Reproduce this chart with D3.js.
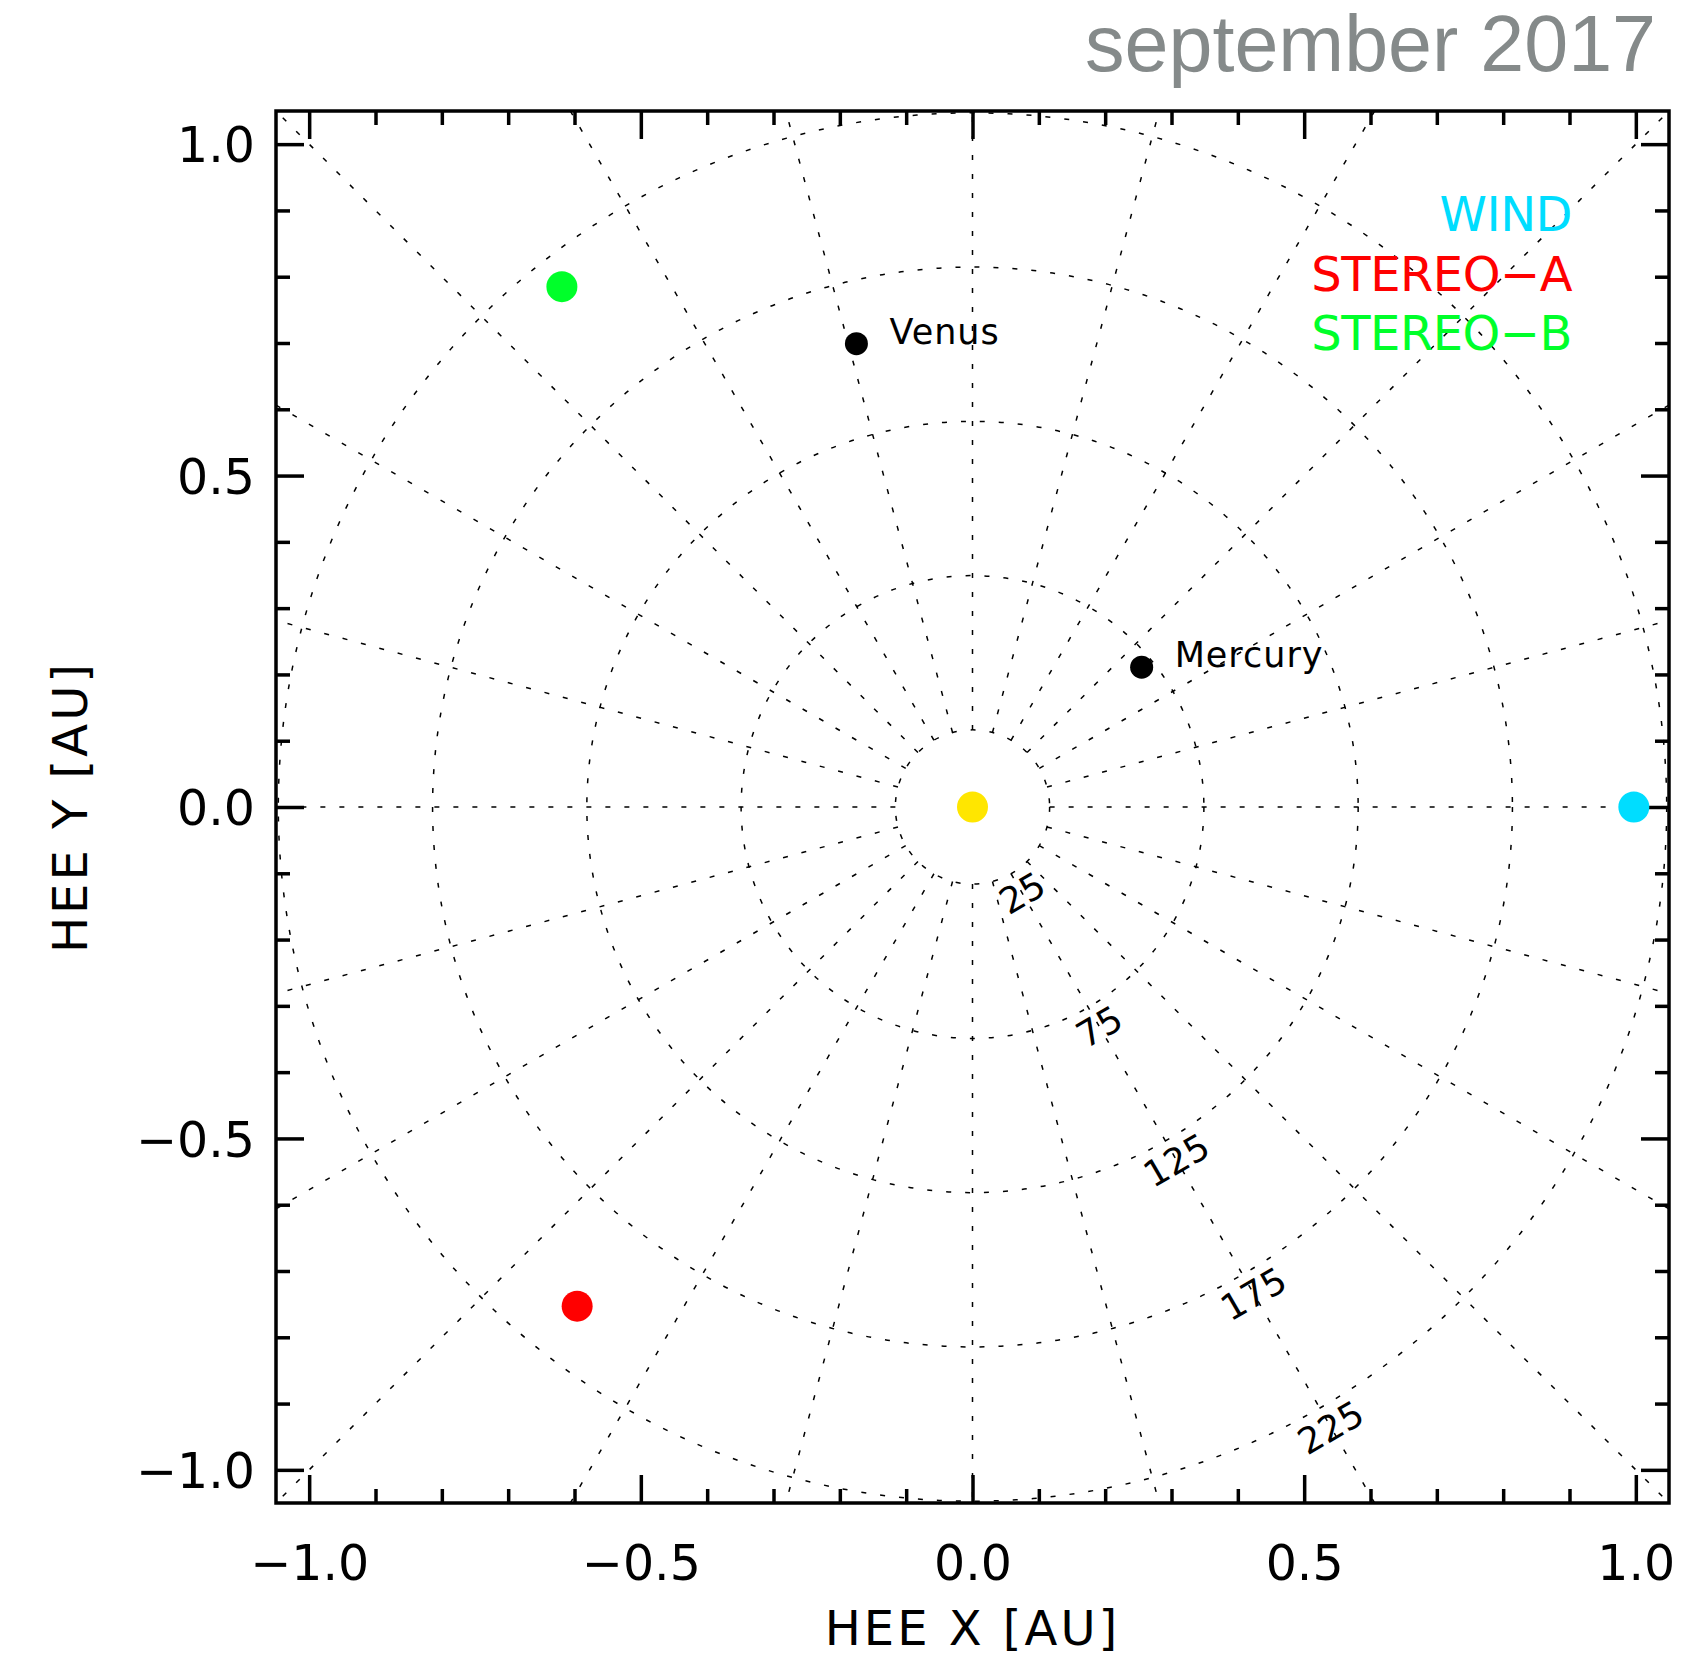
<!DOCTYPE html>
<html lang="en">
<head>
<meta charset="UTF-8">
<title>september 2017</title>
<script src="https://cdn.jsdelivr.net/npm/d3@7"></script>
<style>
  body { margin: 0; background: #fff; }
  text { font-family: "DejaVu Sans", sans-serif; }
</style>
</head>
<body>
<svg id="chart" width="1686" height="1659"></svg>
<script>
// heliocentric positions, HEE [AU]
var planetNames = ["Mercury", "Venus"];
var planetX = [0.255, -0.175];
var planetY = [0.211, 0.699];

var craftNames = ["WIND", "STEREO\u2212A", "STEREO\u2212B"];
var craftX = [0.997, -0.596, -0.619];
var craftY = [0.000, -0.753, 0.785];
var craftColors = ["#00ddff", "#ff0000", "#00ff2a"];

// grid rings in solar radii, spokes every 15 deg
var ringRadii = [25, 75, 125, 175, 225];
var rsunPerAU = 215;
var spokeAngles = d3.range(0, 360, 15);

var majorTicks = [-1.0, -0.5, 0.0, 0.5, 1.0];
var minorTicks = d3.range(-10, 11).map(d => d / 10).filter(d => Math.abs(d * 2 - Math.round(d * 2)) > 1e-6);

var svg = d3.select("svg");
// note: "top" is taken by window.top, so prefix these
var pLeft = 276, pRight = 1669, pTop = 111, pBottom = 1503;

var x = d3.scaleLinear().domain([-1.05, 1.05]).range([pLeft, pRight]);
var y = d3.scaleLinear().domain([-1.05, 1.05]).range([pBottom, pTop]);
var px = d => x(d) - x(0);   // AU -> pixels (radius)

svg.append("clipPath").attr("id", "plotclip")
  .append("rect").attr("x", pLeft).attr("y", pTop)
  .attr("width", pRight - pLeft).attr("height", pBottom - pTop);

var grid = svg.append("g").attr("clip-path", "url(#plotclip)")
  .attr("fill", "none").attr("stroke", "#000")
  .attr("stroke-width", 1.5).attr("stroke-dasharray", "5,14");

grid.selectAll("circle").data(ringRadii).enter().append("circle")
  .attr("cx", x(0)).attr("cy", y(0))
  .attr("r", d => px(d / rsunPerAU));

var r0 = ringRadii[0] / rsunPerAU;
grid.selectAll("line").data(spokeAngles).enter().append("line")
  .attr("x1", a => x(r0 * Math.cos(a * Math.PI / 180)))
  .attr("y1", a => y(r0 * Math.sin(a * Math.PI / 180)))
  .attr("x2", a => x(1.8 * Math.cos(a * Math.PI / 180)))
  .attr("y2", a => y(1.8 * Math.sin(a * Math.PI / 180)));

// ring labels along -60 deg
var labAng = -60 * Math.PI / 180;
svg.append("g").selectAll("text").data(ringRadii).enter().append("text")
  .attr("transform", function(d) {
      var rr = d / rsunPerAU;
      var cx = x(0) + (px(rr) + 22) * Math.cos(labAng);
      var cy = y(0) - (px(rr) + 22) * Math.sin(labAng);
      return "translate(" + cx + "," + cy + ") rotate(-30)";
  })
  .attr("text-anchor", "middle").attr("dy", "0.36em")
  .style("font-size", "36px")
  .text(d => d);

// axes: majors + minors on all four sides, ticks inward
var fmt = d3.format(".1f");
function addAxis(axisFn, tx, ty, labels) {
  var sc = tx ? y : x;
  var g = svg.append("g").attr("transform", "translate(" + tx + "," + ty + ")");
  g.call(axisFn(sc).tickValues(majorTicks).tickSizeInner(-28).tickSizeOuter(0)
      .tickPadding(labels ? (axisFn === d3.axisBottom ? 42 : 21) : 0)
      .tickFormat(labels ? fmt : ""));
  g.append("g").call(axisFn(sc).tickValues(minorTicks).tickSizeInner(-14).tickSizeOuter(0).tickFormat(""));
  g.selectAll("line").attr("stroke", "#000").attr("stroke-width", 3.5);
  g.selectAll("path").remove();
  g.selectAll("text").style("font-size", "49px").attr("fill", "#000");
  return g;
}
addAxis(d3.axisBottom, 0, pBottom, true);
addAxis(d3.axisTop, 0, pTop, false);
var yl = addAxis(d3.axisLeft, pLeft, 0, true);
yl.selectAll("text").attr("dy", "0.36em");
addAxis(d3.axisRight, pRight, 0, false);

svg.append("rect").attr("x", pLeft).attr("y", pTop)
  .attr("width", pRight - pLeft).attr("height", pBottom - pTop)
  .attr("fill", "none").attr("stroke", "#000").attr("stroke-width", 3.5);

// axis titles
svg.append("text").attr("x", x(0)).attr("y", 1645)
  .attr("text-anchor", "middle").style("font-size", "48px").style("letter-spacing", "3px")
  .text("HEE X [AU]");
svg.append("text").attr("transform", "translate(87," + y(0) + ") rotate(-90)")
  .attr("text-anchor", "middle").style("font-size", "48px").style("letter-spacing", "3px")
  .text("HEE Y [AU]");

// title
svg.append("text").attr("x", 1656).attr("y", 71)
  .attr("text-anchor", "end").attr("fill", "#858a8a")
  .style("font-family", "'Liberation Sans', Arial, sans-serif").style("font-size", "79px")
  .text("september 2017");

// sun
svg.append("circle").attr("cx", x(0)).attr("cy", y(0)).attr("r", 15.5).attr("fill", "#ffe600");

// planets
var pg = svg.append("g");
pg.selectAll("circle").data(planetNames).enter().append("circle")
  .attr("cx", (d, i) => x(planetX[i])).attr("cy", (d, i) => y(planetY[i]))
  .attr("r", 11.5).attr("fill", "#000");
pg.selectAll("text").data(planetNames).enter().append("text")
  .attr("x", (d, i) => x(planetX[i]) + 33).attr("y", (d, i) => y(planetY[i]))
  .style("font-size", "35px").style("letter-spacing", "1px")
  .text(d => d);

// spacecraft
svg.append("g").selectAll("circle").data(craftNames).enter().append("circle")
  .attr("cx", (d, i) => x(craftX[i])).attr("cy", (d, i) => y(craftY[i]))
  .attr("r", 15.5).attr("fill", (d, i) => craftColors[i]);

// legend
svg.append("g").selectAll("text").data(craftNames).enter().append("text")
  .attr("x", 1572).attr("y", (d, i) => 231 + i * 59.5)
  .attr("text-anchor", "end").attr("fill", (d, i) => craftColors[i])
  .style("font-size", "48px").style("letter-spacing", "-0.5px")
  .text(d => d);
</script>
</body>
</html>
